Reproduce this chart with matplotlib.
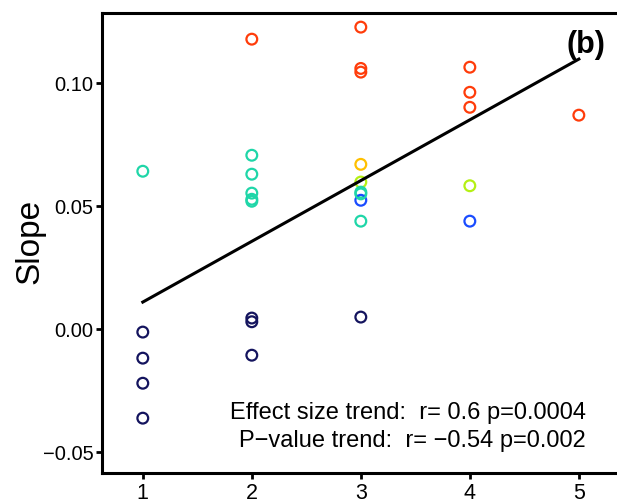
import matplotlib.pyplot as plt

plt.rcParams["font.family"] = ["Liberation Sans", "DejaVu Sans"]

# slope estimates per group, coloured by group membership
groups = [1, 1, 1, 1, 1,
          2, 2, 2, 2, 2, 2, 2, 2, 2,
          3, 3, 3, 3, 3, 3, 3, 3, 3, 3,
          4, 4, 4, 4, 4,
          5]
slopes = [0.0642, -0.0012, -0.0118, -0.0220, -0.0362,
          0.1179, 0.0707, 0.0630, 0.0553, 0.0528, 0.0520, 0.0045, 0.0030, -0.0106,
          0.1228, 0.1060, 0.1045, 0.0670, 0.0598, 0.0557, 0.0524, 0.0439, 0.0049, 0.0550,
          0.1065, 0.0963, 0.0902, 0.0583, 0.0439,
          0.0870]
point_colors = ["#1fd6a8", "#14145e", "#14145e", "#14145e", "#14145e",
                "#ff3c0a", "#1fd6a8", "#1fd6a8", "#1fd6a8", "#1fd6a8", "#1fd6a8", "#14145e", "#14145e", "#14145e",
                "#ff3c0a", "#ff3c0a", "#ff3c0a", "#ffc000", "#b4f014", "#1fd6a8", "#1a4cff", "#1fd6a8", "#14145e", "#1fd6a8",
                "#ff3c0a", "#ff3c0a", "#ff3c0a", "#b4f014", "#1a4cff",
                "#ff3c0a"]

# fitted trend line endpoints
trend_x = [1, 5]
trend_y = [0.0110, 0.1098]

fig = plt.figure(figsize=(6.17, 5.04), dpi=100)
ax = fig.add_axes([0.165, 0.0615, 0.835, 0.9125])

ax.scatter(groups, slopes, s=60, facecolors="none", edgecolors=point_colors,
           linewidths=1.6, zorder=3)
ax.plot(trend_x, trend_y, color="black", linewidth=2.2, zorder=4)

ax.set_xlim(0.624, 5.35)
ax.set_ylim(-0.0585, 0.1285)
ax.set_xticks([1, 2, 3, 4, 5])
ax.set_yticks([-0.05, 0.0, 0.05, 0.10])
ax.set_yticklabels(["\u22120.05", "0.00", "0.05", "0.10"])
ax.tick_params(axis="both", direction="out", length=4, width=2)
ax.tick_params(axis="y", pad=2, labelsize=14.5)
ax.tick_params(axis="x", pad=3, labelsize=15.5)

ax.spines["right"].set_visible(False)
for side in ("left", "top", "bottom"):
    ax.spines[side].set_linewidth(2.2)

ax.set_ylabel("Slope", fontsize=24)
ax.yaxis.set_label_coords(-0.109, 0.504)

ax.text(0.977, 0.963, "(b)", transform=ax.transAxes, fontsize=22,
        fontweight="bold", ha="right", va="top")
ax.text(5.065, -0.0341, "Effect size trend:  r= 0.6 p=0.0004",
        fontsize=17, ha="right", va="center")
ax.text(5.065, -0.0455, "P\u2212value trend:  r= \u22120.54 p=0.002",
        fontsize=17, ha="right", va="center")

fig.savefig("out.png", dpi=100)
